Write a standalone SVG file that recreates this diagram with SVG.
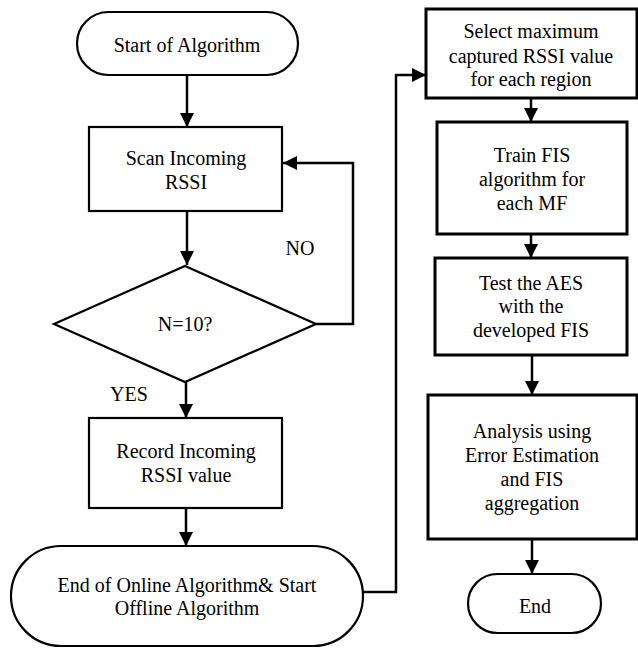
<svg xmlns="http://www.w3.org/2000/svg" width="638" height="648" viewBox="0 0 638 648">
<style>
.s{fill:#fff;stroke:#000;stroke-width:2.2}
.t{stroke-width:3}
text{font-size:20px;fill:#000;text-anchor:middle}
.c{fill:none;stroke:#000;stroke-width:2.5}
</style>
<defs>
<marker id="b" viewBox="0 0 10 10" refX="10" refY="5" markerWidth="14" markerHeight="14" markerUnits="userSpaceOnUse" orient="auto"><path d="M0,0L10,5L0,10z" fill="#000"/></marker>
</defs>
<rect width="638" height="648" fill="#fff"/>
<g id="connectors">
<path class="c" d="M187,75V127" marker-end="url(#b)"/>
<path class="c" d="M187,211V265" marker-end="url(#b)"/>
<path class="c" d="M316,324H353V163H283" marker-end="url(#b)"/>
<path class="c" d="M186,382V418" marker-end="url(#b)"/>
<path class="c" d="M186,508V546" marker-end="url(#b)"/>
<path class="c" d="M363,592H396V75H426" marker-end="url(#b)"/>
<path class="c" d="M531,98V122" marker-end="url(#b)"/>
<path class="c" d="M531,234V258" marker-end="url(#b)"/>
<path class="c" d="M532,355V395" marker-end="url(#b)"/>
<path class="c" d="M532,539V574" marker-end="url(#b)"/>
</g>
<g font-family="Liberation Serif, Times New Roman, DejaVu Serif, serif">
<g id="start"><rect class="s" x="77" y="12" width="221" height="63" rx="31.5"/><text x="187" y="52">Start of Algorithm</text></g>
<g id="scan"><rect class="s" x="89" y="127" width="193" height="84"/><text x="186" y="165">Scan Incoming</text><text x="186" y="189">RSSI</text></g>
<g id="decision"><path class="s" d="M185,266L316,324L185,382L54,324z"/><text x="185" y="331">N=10?</text></g>
<text x="300" y="255">NO</text>
<text x="129" y="401">YES</text>
<g id="record"><rect class="s" x="89" y="418" width="193" height="90"/><text x="186" y="458">Record Incoming</text><text x="186" y="482">RSSI value</text></g>
<g id="endonline"><rect class="s" x="11" y="546" width="352" height="100" rx="50"/><text x="187" y="592">End of Online Algorithm&amp; Start</text><text x="187" y="615">Offline Algorithm</text></g>
<g id="select"><rect class="s t" x="426" y="9" width="211" height="89"/><text x="531" y="38">Select maximum</text><text x="531" y="63">captured RSSI value</text><text x="531" y="86">for each region</text></g>
<g id="train"><rect class="s t" x="437" y="122" width="190" height="112"/><text x="532" y="162">Train FIS</text><text x="532" y="186">algorithm for</text><text x="532" y="210">each MF</text></g>
<g id="test"><rect class="s t" x="435" y="258" width="192" height="97"/><text x="531" y="290">Test the AES</text><text x="531" y="313">with the</text><text x="531" y="337">developed FIS</text></g>
<g id="analysis"><rect class="s t" x="428" y="395" width="209" height="144"/><text x="532" y="438">Analysis using</text><text x="532" y="462">Error Estimation</text><text x="532" y="486">and FIS</text><text x="532" y="510">aggregation</text></g>
<g id="end"><rect class="s" x="468" y="574" width="133" height="59" rx="29.5"/><text x="535" y="613">End</text></g>
</g>
</svg>
